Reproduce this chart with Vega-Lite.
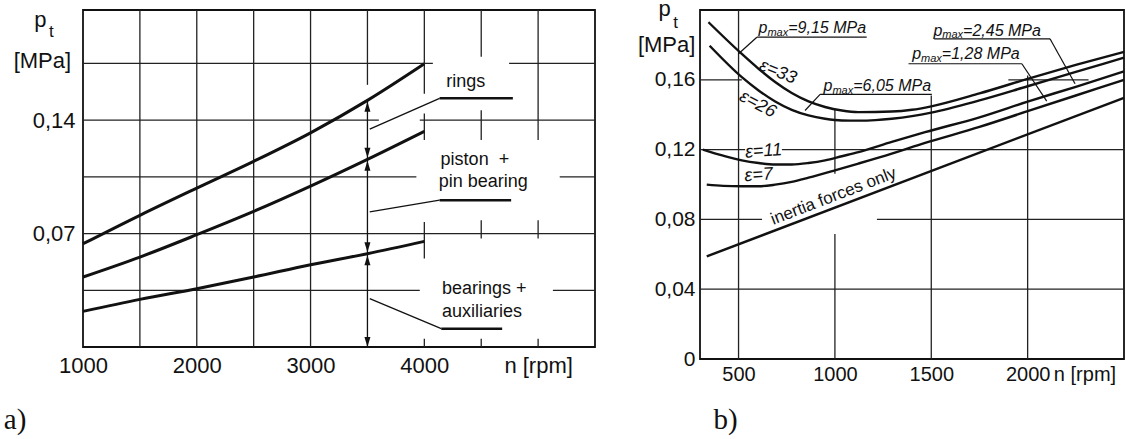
{
  "$schema": "https://vega.github.io/schema/vega-lite/v6.json",
  "background": "white",
  "padding": {"left": 2, "top": -4, "right": 0, "bottom": 0},
  "bounds": "flush",
  "spacing": 105,
  "config": {
    "view": {"stroke": "#111", "strokeWidth": 1.8},
    "font": "Liberation Sans",
    "axis": {"labelFont": "Liberation Sans", "labelColor": "#111", "grid": false, "ticks": false, "tickSize": 0, "domain": false, "title": null, "labelFlush": false, "labelOverlap": false, "labelBound": false}
  },
  "datasets": {
    "a_curves": [
      {"series": "rings", "n": 1000, "p": 0.0637}, {"series": "rings", "n": 1500, "p": 0.0813}, {"series": "rings", "n": 2000, "p": 0.0981}, {"series": "rings", "n": 2500, "p": 0.1146}, {"series": "rings", "n": 3000, "p": 0.1322}, {"series": "rings", "n": 3500, "p": 0.1522}, {"series": "rings", "n": 4000, "p": 0.1748},
      {"series": "piston + pin bearing", "n": 1000, "p": 0.0432}, {"series": "piston + pin bearing", "n": 1500, "p": 0.0555}, {"series": "piston + pin bearing", "n": 2000, "p": 0.0693}, {"series": "piston + pin bearing", "n": 2500, "p": 0.0837}, {"series": "piston + pin bearing", "n": 3000, "p": 0.0993}, {"series": "piston + pin bearing", "n": 3500, "p": 0.1158}, {"series": "piston + pin bearing", "n": 4000, "p": 0.1331},
      {"series": "bearings + auxiliaries", "n": 1000, "p": 0.022}, {"series": "bearings + auxiliaries", "n": 1500, "p": 0.0294}, {"series": "bearings + auxiliaries", "n": 2000, "p": 0.036}, {"series": "bearings + auxiliaries", "n": 2500, "p": 0.0432}, {"series": "bearings + auxiliaries", "n": 3000, "p": 0.0508}, {"series": "bearings + auxiliaries", "n": 3500, "p": 0.0576}, {"series": "bearings + auxiliaries", "n": 4000, "p": 0.0652}
    ],
    "a_grid": [
      {"n": 1000, "n2": 4075, "p": 0.175, "p2": 0.175}, {"n": 4745, "n2": 5500, "p": 0.175, "p2": 0.175},
      {"n": 1000, "n2": 3600, "p": 0.14, "p2": 0.14}, {"n": 3960, "n2": 5500, "p": 0.14, "p2": 0.14},
      {"n": 1000, "n2": 3930, "p": 0.105, "p2": 0.105}, {"n": 5190, "n2": 5500, "p": 0.105, "p2": 0.105},
      {"n": 1000, "n2": 5500, "p": 0.07, "p2": 0.07},
      {"n": 1000, "n2": 3960, "p": 0.035, "p2": 0.035}, {"n": 5130, "n2": 5500, "p": 0.035, "p2": 0.035},
      {"n": 1500, "n2": 1500, "p": 0, "p2": 0.208}, {"n": 2000, "n2": 2000, "p": 0, "p2": 0.208}, {"n": 2500, "n2": 2500, "p": 0, "p2": 0.208}, {"n": 3000, "n2": 3000, "p": 0, "p2": 0.208},
      {"n": 3500, "n2": 3500, "p": 0.1618, "p2": 0.208},
      {"n": 4000, "n2": 4000, "p": 0.1563, "p2": 0.208}, {"n": 4000, "n2": 4000, "p": 0.1277, "p2": 0.1441}, {"n": 4000, "n2": 4000, "p": 0.0546, "p2": 0.0772}, {"n": 4000, "n2": 4000, "p": 0, "p2": 0.0051},
      {"n": 4500, "n2": 4500, "p": 0.1792, "p2": 0.208}, {"n": 4500, "n2": 4500, "p": 0.1277, "p2": 0.1462}, {"n": 4500, "n2": 4500, "p": 0.0669, "p2": 0.0783}, {"n": 4500, "n2": 4500, "p": 0, "p2": 0.0051},
      {"n": 5000, "n2": 5000, "p": 0.1277, "p2": 0.208}, {"n": 5000, "n2": 5000, "p": 0.0669, "p2": 0.0783}, {"n": 5000, "n2": 5000, "p": 0, "p2": 0.0051}
    ],
    "a_leaders": [
      {"kind": "leader", "n": 3500, "n2": 3500, "p": 0.1516, "p2": 0},
      {"kind": "leader", "n": 3520, "n2": 4134, "p": 0.1345, "p2": 0.1535},
      {"kind": "leader", "n": 3520, "n2": 4134, "p": 0.0834, "p2": 0.0906},
      {"kind": "leader", "n": 3520, "n2": 4149, "p": 0.0298, "p2": 0.0113},
      {"kind": "shelf", "n": 4134, "n2": 4778, "p": 0.1535, "p2": 0.1535},
      {"kind": "shelf", "n": 4134, "n2": 4763, "p": 0.0906, "p2": 0.0906},
      {"kind": "shelf", "n": 4149, "n2": 4684, "p": 0.0113, "p2": 0.0113}
    ],
    "a_arrows": [
      {"dir": "up", "n": 3500, "p": 0.1514},
      {"dir": "down", "n": 3500, "p": 0.1168},
      {"dir": "up", "n": 3500, "p": 0.1149},
      {"dir": "down", "n": 3500, "p": 0.0585},
      {"dir": "up", "n": 3500, "p": 0.0567},
      {"dir": "down", "n": 3500, "p": 0.0}
    ],
    "a_text": [
      {"role": "label", "text": "rings", "n": 4193, "p": 0.1606},
      {"role": "label", "text": "piston\u00a0 +", "n": 4143, "p": 0.1123},
      {"role": "label", "text": "pin bearing", "n": 4126, "p": 0.0988},
      {"role": "label", "text": "bearings +", "n": 4155, "p": 0.0329},
      {"role": "label", "text": "auxiliaries", "n": 4155, "p": 0.0185},
      {"role": "title", "text": "p", "n": 625, "p": 0.1977},
      {"role": "title", "text": "[MPa]", "n": 643, "p": 0.1724},
      {"role": "sub", "text": "t", "n": 722, "p": 0.1915},
      {"role": "panel", "text": "a)", "n": 304, "p": -0.0505}
    ],
    "b_curves": [
      {"series": "ε=33", "n": 344, "p": 0.193}, {"series": "ε=33", "n": 517, "p": 0.1748}, {"series": "ε=33", "n": 604, "p": 0.1663}, {"series": "ε=33", "n": 690, "p": 0.1587}, {"series": "ε=33", "n": 776, "p": 0.1524}, {"series": "ε=33", "n": 863, "p": 0.1476}, {"series": "ε=33", "n": 949, "p": 0.1444}, {"series": "ε=33", "n": 1036, "p": 0.1424}, {"series": "ε=33", "n": 1122, "p": 0.1415}, {"series": "ε=33", "n": 1295, "p": 0.1418}, {"series": "ε=33", "n": 1400, "p": 0.1428}, {"series": "ε=33", "n": 1500, "p": 0.1448}, {"series": "ε=33", "n": 1750, "p": 0.1522}, {"series": "ε=33", "n": 2000, "p": 0.1605}, {"series": "ε=33", "n": 2250, "p": 0.1685}, {"series": "ε=33", "n": 2500, "p": 0.176},
      {"series": "ε=26", "n": 350, "p": 0.1795}, {"series": "ε=26", "n": 517, "p": 0.1615}, {"series": "ε=26", "n": 604, "p": 0.1539}, {"series": "ε=26", "n": 690, "p": 0.1476}, {"series": "ε=26", "n": 776, "p": 0.1428}, {"series": "ε=26", "n": 863, "p": 0.1396}, {"series": "ε=26", "n": 949, "p": 0.1377}, {"series": "ε=26", "n": 1036, "p": 0.1367}, {"series": "ε=26", "n": 1122, "p": 0.1366}, {"series": "ε=26", "n": 1210, "p": 0.1369}, {"series": "ε=26", "n": 1295, "p": 0.1377}, {"series": "ε=26", "n": 1400, "p": 0.1392}, {"series": "ε=26", "n": 1500, "p": 0.1412}, {"series": "ε=26", "n": 1750, "p": 0.1482}, {"series": "ε=26", "n": 2000, "p": 0.1563}, {"series": "ε=26", "n": 2250, "p": 0.1645}, {"series": "ε=26", "n": 2500, "p": 0.1727},
      {"series": "ε=11", "n": 315, "p": 0.12}, {"series": "ε=11", "n": 420, "p": 0.1165}, {"series": "ε=11", "n": 517, "p": 0.1138}, {"series": "ε=11", "n": 604, "p": 0.1123}, {"series": "ε=11", "n": 690, "p": 0.1115}, {"series": "ε=11", "n": 776, "p": 0.1115}, {"series": "ε=11", "n": 863, "p": 0.1123}, {"series": "ε=11", "n": 949, "p": 0.1138}, {"series": "ε=11", "n": 1036, "p": 0.1162}, {"series": "ε=11", "n": 1122, "p": 0.1186}, {"series": "ε=11", "n": 1295, "p": 0.1244}, {"series": "ε=11", "n": 1468, "p": 0.13}, {"series": "ε=11", "n": 1750, "p": 0.1385}, {"series": "ε=11", "n": 2000, "p": 0.1475}, {"series": "ε=11", "n": 2250, "p": 0.156}, {"series": "ε=11", "n": 2500, "p": 0.1648},
      {"series": "ε=7", "n": 335, "p": 0.0999}, {"series": "ε=7", "n": 420, "p": 0.0992}, {"series": "ε=7", "n": 517, "p": 0.099}, {"series": "ε=7", "n": 604, "p": 0.099}, {"series": "ε=7", "n": 690, "p": 0.0999}, {"series": "ε=7", "n": 776, "p": 0.1015}, {"series": "ε=7", "n": 863, "p": 0.1039}, {"series": "ε=7", "n": 1000, "p": 0.1081}, {"series": "ε=7", "n": 1122, "p": 0.112}, {"series": "ε=7", "n": 1295, "p": 0.1177}, {"series": "ε=7", "n": 1468, "p": 0.1238}, {"series": "ε=7", "n": 1750, "p": 0.133}, {"series": "ε=7", "n": 2000, "p": 0.142}, {"series": "ε=7", "n": 2250, "p": 0.151}, {"series": "ε=7", "n": 2500, "p": 0.16},
      {"series": "inertia forces only", "n": 335, "p": 0.0588}, {"series": "inertia forces only", "n": 2500, "p": 0.1497}
    ],
    "b_grid": [
      {"n": 300, "n2": 517, "p": 0.16, "p2": 0.16}, {"n": 1900, "n2": 2316, "p": 0.16, "p2": 0.16},
      {"n": 300, "n2": 534, "p": 0.12, "p2": 0.12}, {"n": 725, "n2": 2500, "p": 0.12, "p2": 0.12},
      {"n": 300, "n2": 622, "p": 0.08, "p2": 0.08}, {"n": 1218, "n2": 2500, "p": 0.08, "p2": 0.08},
      {"n": 300, "n2": 2500, "p": 0.04, "p2": 0.04},
      {"n": 500, "n2": 500, "p": 0, "p2": 0.2},
      {"n": 1000, "n2": 1000, "p": 0.1061, "p2": 0.143}, {"n": 1000, "n2": 1000, "p": 0, "p2": 0.0717},
      {"n": 1500, "n2": 1500, "p": 0, "p2": 0.151},
      {"n": 2000, "n2": 2000, "p": 0, "p2": 0.1625}
    ],
    "b_leaders": [
      {"n": 595, "n2": 1165, "p": 0.1844, "p2": 0.1844}, {"n": 595, "n2": 500, "p": 0.1844, "p2": 0.1749},
      {"n": 923, "n2": 1503, "p": 0.1516, "p2": 0.1516}, {"n": 923, "n2": 845, "p": 0.1516, "p2": 0.1424},
      {"n": 1515, "n2": 2116, "p": 0.1835, "p2": 0.1835}, {"n": 2116, "n2": 2246, "p": 0.1835, "p2": 0.1577},
      {"n": 1382, "n2": 1970, "p": 0.1692, "p2": 0.1692}, {"n": 1970, "n2": 2099, "p": 0.1692, "p2": 0.1478}
    ],
    "b_pmax": [
      {"part": "p", "text": "p", "n": 604, "p": 0.1866}, {"part": "sub", "text": "max", "n": 650, "p": 0.185}, {"part": "rest", "text": "=9,15 MPa", "n": 758, "p": 0.1866},
      {"part": "p", "text": "p", "n": 941, "p": 0.1535}, {"part": "sub", "text": "max", "n": 987, "p": 0.1519}, {"part": "rest", "text": "=6,05 MPa", "n": 1095, "p": 0.1535},
      {"part": "p", "text": "p", "n": 1511, "p": 0.1853}, {"part": "sub", "text": "max", "n": 1557, "p": 0.1838}, {"part": "rest", "text": "=2,45 MPa", "n": 1665, "p": 0.1853},
      {"part": "p", "text": "p", "n": 1401, "p": 0.172}, {"part": "sub", "text": "max", "n": 1447, "p": 0.1702}, {"part": "rest", "text": "=1,28 MPa", "n": 1555, "p": 0.172}
    ],
    "b_text": [
      {"text": "ε=33", "n": 704, "p": 0.1644},
      {"text": "ε=26", "n": 599, "p": 0.1459},
      {"text": "ε=11", "n": 630, "p": 0.119},
      {"text": "ε=7", "n": 604, "p": 0.1053},
      {"text": "inertia forces only", "n": 993, "p": 0.0932},
      {"text": "p", "n": 117, "p": 0.1967},
      {"text": "t", "n": 174, "p": 0.1899},
      {"text": "[MPa]", "n": 127, "p": 0.1761},
      {"text": "b)", "n": 370, "p": -0.0403}
    ]
  },
  "hconcat": [
    {
      "width": 512,
      "height": 337,
      "encoding": {
        "x": {"field": "n", "type": "quantitative", "scale": {"domain": [1000, 5500], "nice": false, "zero": false},
          "axis": {"values": [1000, 2000, 3000, 4000, 5000], "labelExpr": "datum.value == 5000 ? 'n [rpm]' : datum.value", "labelFontSize": 22, "labelPadding": 8}},
        "y": {"field": "p", "type": "quantitative", "scale": {"domain": [0, 0.208], "nice": false, "zero": false},
          "axis": {"values": [0.07, 0.14], "labelExpr": "replace(format(datum.value, '.2f'), '.', ',')", "labelFontSize": 22, "labelPadding": 8}}
      },
      "layer": [
        {"data": {"name": "a_grid"}, "mark": {"type": "rule", "color": "#222", "strokeWidth": 1.3},
          "encoding": {"x2": {"field": "n2"}, "y2": {"field": "p2"}}},
        {"data": {"name": "a_leaders"}, "transform": [{"filter": "datum.kind == 'leader'"}], "mark": {"type": "rule", "color": "#111", "strokeWidth": 1.3},
          "encoding": {"x2": {"field": "n2"}, "y2": {"field": "p2"}}},
        {"data": {"name": "a_leaders"}, "transform": [{"filter": "datum.kind == 'shelf'"}], "mark": {"type": "rule", "color": "#111", "strokeWidth": 2.6},
          "encoding": {"x2": {"field": "n2"}, "y2": {"field": "p2"}}},
        {"data": {"name": "a_curves"}, "mark": {"type": "line", "color": "#111", "strokeWidth": 3, "interpolate": "monotone"},
          "encoding": {"detail": {"field": "series"}}},
        {"data": {"name": "a_arrows"}, "transform": [{"filter": "datum.dir == 'up'"}], "mark": {"type": "point", "shape": "M0,0L0.6,2L-0.6,2Z", "filled": true, "size": 100, "color": "#111", "opacity": 1, "strokeWidth": 0}},
        {"data": {"name": "a_arrows"}, "transform": [{"filter": "datum.dir == 'down'"}], "mark": {"type": "point", "shape": "M0,0L0.6,-2L-0.6,-2Z", "filled": true, "size": 100, "color": "#111", "opacity": 1, "strokeWidth": 0}},
        {"data": {"name": "a_text"}, "transform": [{"filter": "datum.role == 'label'"}], "mark": {"type": "text", "align": "left", "baseline": "alphabetic", "fontSize": 18, "color": "#111", "font": "Liberation Sans"},
          "encoding": {"text": {"field": "text"}}},
        {"data": {"name": "a_text"}, "transform": [{"filter": "datum.role == 'title'"}], "mark": {"type": "text", "align": "center", "baseline": "alphabetic", "fontSize": 22, "color": "#111", "font": "Liberation Sans"},
          "encoding": {"text": {"field": "text"}}},
        {"data": {"name": "a_text"}, "transform": [{"filter": "datum.role == 'sub'"}], "mark": {"type": "text", "align": "center", "baseline": "alphabetic", "fontSize": 17, "color": "#111", "font": "Liberation Sans"},
          "encoding": {"text": {"field": "text"}}},
        {"data": {"name": "a_text"}, "transform": [{"filter": "datum.role == 'panel'"}], "mark": {"type": "text", "align": "left", "baseline": "alphabetic", "fontSize": 29, "color": "#111", "font": "Liberation Serif"},
          "encoding": {"text": {"field": "text"}}}
      ]
    },
    {
      "width": 424,
      "height": 349,
      "encoding": {
        "x": {"field": "n", "type": "quantitative", "scale": {"domain": [300, 2500], "nice": false, "zero": false},
          "axis": {"values": [500, 1000, 1500, 2000, 2295], "labelExpr": "datum.value == 2295 ? 'n [rpm]' : datum.value", "labelFontSize": 20, "labelPadding": 5}},
        "y": {"field": "p", "type": "quantitative", "scale": {"domain": [0, 0.2], "nice": false, "zero": false},
          "axis": {"values": [0, 0.04, 0.08, 0.12, 0.16], "labelExpr": "datum.value == 0 ? '0' : replace(format(datum.value, '.2f'), '.', ',')", "labelFontSize": 21, "labelPadding": 5}}
      },
      "layer": [
        {"data": {"name": "b_grid"}, "mark": {"type": "rule", "color": "#222", "strokeWidth": 1.3},
          "encoding": {"x2": {"field": "n2"}, "y2": {"field": "p2"}}},
        {"data": {"name": "b_leaders"}, "mark": {"type": "rule", "color": "#111", "strokeWidth": 1.2},
          "encoding": {"x2": {"field": "n2"}, "y2": {"field": "p2"}}},
        {"data": {"name": "b_curves"}, "mark": {"type": "line", "color": "#111", "strokeWidth": 2.4, "interpolate": "monotone"},
          "encoding": {"detail": {"field": "series"}}},
        {"data": {"name": "b_pmax"}, "transform": [{"filter": "datum.part != 'sub'"}], "mark": {"type": "text", "align": "left", "baseline": "alphabetic", "fontSize": 16, "fontStyle": "italic", "color": "#111", "font": "Liberation Sans"},
          "encoding": {"text": {"field": "text"}}},
        {"data": {"name": "b_pmax"}, "transform": [{"filter": "datum.part == 'sub'"}], "mark": {"type": "text", "align": "left", "baseline": "alphabetic", "fontSize": 11, "fontStyle": "italic", "color": "#111", "font": "Liberation Sans"},
          "encoding": {"text": {"field": "text"}}},
        {"data": {"name": "b_text"}, "transform": [{"filter": "datum.text == 'ε=33'"}], "mark": {"type": "text", "align": "center", "baseline": "middle", "fontSize": 18, "fontStyle": "italic", "angle": 22, "color": "#111", "font": "Liberation Sans"},
          "encoding": {"text": {"field": "text"}}},
        {"data": {"name": "b_text"}, "transform": [{"filter": "datum.text == 'ε=26'"}], "mark": {"type": "text", "align": "center", "baseline": "middle", "fontSize": 18, "fontStyle": "italic", "angle": 28, "color": "#111", "font": "Liberation Sans"},
          "encoding": {"text": {"field": "text"}}},
        {"data": {"name": "b_text"}, "transform": [{"filter": "datum.text == 'ε=11' || datum.text == 'ε=7'"}], "mark": {"type": "text", "align": "center", "baseline": "middle", "fontSize": 18, "fontStyle": "italic", "angle": -4, "color": "#111", "font": "Liberation Sans"},
          "encoding": {"text": {"field": "text"}}},
        {"data": {"name": "b_text"}, "transform": [{"filter": "datum.text == 'inertia forces only'"}], "mark": {"type": "text", "align": "center", "baseline": "middle", "fontSize": 17, "angle": -21, "color": "#111", "font": "Liberation Sans"},
          "encoding": {"text": {"field": "text"}}},
        {"data": {"name": "b_text"}, "transform": [{"filter": "datum.text == 'p' || datum.text == '[MPa]'"}], "mark": {"type": "text", "align": "center", "baseline": "alphabetic", "fontSize": 22, "color": "#111", "font": "Liberation Sans"},
          "encoding": {"text": {"field": "text"}}},
        {"data": {"name": "b_text"}, "transform": [{"filter": "datum.text == 't'"}], "mark": {"type": "text", "align": "center", "baseline": "alphabetic", "fontSize": 17, "color": "#111", "font": "Liberation Sans"},
          "encoding": {"text": {"field": "text"}}},
        {"data": {"name": "b_text"}, "transform": [{"filter": "datum.text == 'b)'"}], "mark": {"type": "text", "align": "left", "baseline": "alphabetic", "fontSize": 29, "color": "#111", "font": "Liberation Serif"},
          "encoding": {"text": {"field": "text"}}}
      ]
    }
  ]
}
